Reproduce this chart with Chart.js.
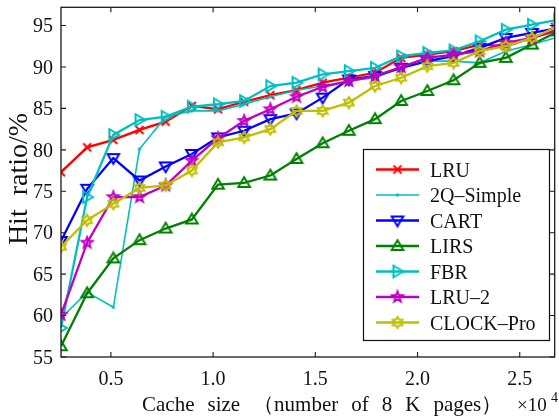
<!DOCTYPE html>
<html>
<head>
<meta charset="utf-8">
<script src="https://cdn.jsdelivr.net/npm/chart.js@4/dist/chart.umd.min.js"></script>
<style>
    html, body { margin: 0; padding: 0; background: #fff; overflow: hidden; }
    #wrap { width: 562px; height: 420px; }
</style>
</head>
<body>
<div id="wrap"><canvas id="hit-chart" width="562" height="420"></canvas></div>
<script>
// Cache size in units of 10^4 pages (8 K each)
const cacheSize = [0.256, 0.384, 0.512, 0.640, 0.768, 0.896, 1.024, 1.152, 1.280, 1.408,
                   1.536, 1.664, 1.792, 1.920, 2.048, 2.176, 2.304, 2.432, 2.560, 2.688];

// Hit ratio (%) per policy
const lru      = [77.3, 80.3, 81.2, 82.4, 83.4, 85.3, 84.9, 85.8, 86.6, 87.2,
                  88.1, 88.7, 89.3, 91.1, 91.5, 91.9, 92.7, 92.5, 93.5, 94.4];
const twoQ     = [59.7, 62.8, 61.0, 80.1, 84.0, 84.7, 84.7, 85.5, 86.4, 87.2,
                  87.7, 88.3, 88.7, 89.9, 90.7, 90.7, 90.5, 91.9, 92.7, 93.6];
const cart     = [69.0, 75.3, 79.0, 76.3, 78.0, 79.5, 81.5, 82.3, 83.7, 84.4,
                  86.3, 88.5, 88.9, 89.9, 90.7, 91.3, 92.3, 93.5, 94.1, 94.7];
const lirs     = [56.3, 62.7, 66.9, 69.1, 70.5, 71.6, 75.8, 76.0, 76.9, 78.9,
                  80.8, 82.3, 83.7, 85.9, 87.1, 88.4, 90.5, 91.1, 92.7, 94.3];
const fbr      = [58.5, 74.3, 81.8, 83.6, 84.0, 85.2, 85.5, 85.9, 87.7, 88.1,
                  89.1, 89.5, 89.9, 91.3, 91.7, 92.0, 93.1, 94.5, 95.1, 95.7];
const lru2     = [60.1, 68.8, 74.3, 74.3, 75.7, 78.7, 81.4, 83.5, 84.9, 86.4,
                  87.6, 88.3, 88.9, 90.0, 91.1, 91.5, 91.9, 92.9, 93.5, 94.6];
const clockPro = [68.3, 71.5, 73.5, 75.4, 75.7, 77.5, 80.9, 81.5, 82.5, 84.7,
                  84.7, 85.7, 87.7, 88.7, 90.1, 90.5, 91.9, 92.5, 93.5, 94.9];

const xTicks = [0.5, 1.0, 1.5, 2.0, 2.5];
const yTicks = [55, 60, 65, 70, 75, 80, 85, 90, 95];

const serif = '"Liberation Serif", "Times New Roman", serif';

// Small canvases used as point markers (MATLAB-like symbols)
function makeMarker(kind, color) {
    const c = document.createElement('canvas');
    c.width = 16;
    c.height = 16;
    const g = c.getContext('2d');
    g.strokeStyle = color;
    g.fillStyle = color;
    g.lineWidth = 2;
    g.translate(8, 8);
    g.beginPath();
    if (kind === 'x') {
        g.moveTo(-4, -4); g.lineTo(4, 4);
        g.moveTo(4, -4); g.lineTo(-4, 4);
        g.stroke();
    } else if (kind === 'dot') {
        g.arc(0, 0, 1.7, 0, Math.PI * 2);
        g.fill();
    } else if (kind === 'down') {
        g.moveTo(-5.8, -4); g.lineTo(5.8, -4); g.lineTo(0, 5.8); g.closePath();
        g.stroke();
    } else if (kind === 'up') {
        g.moveTo(-5.8, 4); g.lineTo(5.8, 4); g.lineTo(0, -5.8); g.closePath();
        g.stroke();
    } else if (kind === 'right') {
        g.moveTo(-4, -5.8); g.lineTo(-4, 5.8); g.lineTo(5.8, 0); g.closePath();
        g.stroke();
    } else {
        const n = kind === 'penta' ? 5 : 6;
        const R = 5.6;
        const r = kind === 'penta' ? R * 0.42 : R * 0.58;
        for (let k = 0; k < n * 2; k++) {
            const rad = k % 2 === 0 ? R : r;
            const a = -Math.PI / 2 + k * Math.PI / n;
            if (k === 0) g.moveTo(rad * Math.cos(a), rad * Math.sin(a));
            else g.lineTo(rad * Math.cos(a), rad * Math.sin(a));
        }
        g.closePath();
        g.stroke();
    }
    return c;
}

const seriesDefs = [
    { label: 'LRU',        data: lru,      color: '#ff0000', marker: 'x',     width: 2.3 },
    { label: '2Q–Simple',  data: twoQ,     color: '#00bfbf', marker: 'dot',   width: 1.6 },
    { label: 'CART',       data: cart,     color: '#0000ff', marker: 'down',  width: 2.3 },
    { label: 'LIRS',       data: lirs,     color: '#008000', marker: 'up',    width: 2.3 },
    { label: 'FBR',        data: fbr,      color: '#00bfbf', marker: 'right', width: 2.3 },
    { label: 'LRU–2',      data: lru2,     color: '#bf00bf', marker: 'penta', width: 2.3 },
    { label: 'CLOCK–Pro',  data: clockPro, color: '#bfbf00', marker: 'hexa',  width: 2.3 }
];

const datasets = seriesDefs.map((s, i) => ({
    label: s.label,
    data: cacheSize.map((c, k) => ({ x: c, y: s.data[k] })),
    borderColor: s.color,
    backgroundColor: s.color,
    borderWidth: s.width,
    pointStyle: makeMarker(s.marker, s.color),
    pointRadius: 5,
    tension: 0,
    order: seriesDefs.length - i
}));

// Axes box, inward ticks, labels, titles and the legend
const frame = {
    id: 'frame',
    afterDraw(chart) {
        const { ctx, chartArea: a, scales: { x, y } } = chart;
        ctx.save();

        ctx.strokeStyle = '#1a1a1a';
        ctx.lineWidth = 1.3;
        ctx.strokeRect(a.left, a.top, a.right - a.left, a.bottom - a.top);

        ctx.lineWidth = 1.1;
        ctx.beginPath();
        xTicks.forEach(v => {
            const px = x.getPixelForValue(v);
            ctx.moveTo(px, a.bottom); ctx.lineTo(px, a.bottom - 5);
            ctx.moveTo(px, a.top); ctx.lineTo(px, a.top + 5);
        });
        yTicks.forEach(v => {
            const py = y.getPixelForValue(v);
            ctx.moveTo(a.left, py); ctx.lineTo(a.left + 5, py);
            ctx.moveTo(a.right, py); ctx.lineTo(a.right - 5, py);
        });
        ctx.stroke();

        ctx.fillStyle = '#111';
        ctx.font = '20px ' + serif;
        ctx.textBaseline = 'alphabetic';
        ctx.textAlign = 'right';
        yTicks.forEach(v => {
            ctx.fillText(String(v), a.left - 8, y.getPixelForValue(v) + 6.7);
        });
        ctx.textAlign = 'center';
        xTicks.forEach(v => {
            ctx.fillText(v.toFixed(1), x.getPixelForValue(v), 385);
        });

        // x title, words spaced wide like the original typesetting
        ctx.font = '21px ' + serif;
        ctx.textAlign = 'left';
        const words = ['Cache', 'size', '（number', 'of', '8', 'K', 'pages）'];
        let cx = 142;
        words.forEach(w => {
            ctx.fillText(w, cx, 411);
            cx += ctx.measureText(w).width + 13;
        });
        ctx.font = '19px ' + serif;
        ctx.fillText('×10', 517, 411);
        ctx.font = '14px ' + serif;
        ctx.fillText('4', 551, 402);

        // y title
        ctx.save();
        ctx.translate(27, 179);
        ctx.rotate(-Math.PI / 2);
        ctx.font = '28px ' + serif;
        ctx.textAlign = 'center';
        ctx.fillText('Hit  ratio/%', 0, 0);
        ctx.restore();

        // legend
        const lx = 363.5, ly = 149.5, lw = 186, lh = 191;
        ctx.fillStyle = '#fff';
        ctx.fillRect(lx, ly, lw, lh);
        ctx.strokeStyle = '#111';
        ctx.lineWidth = 1.2;
        ctx.strokeRect(lx, ly, lw, lh);
        ctx.font = '20px ' + serif;
        ctx.textAlign = 'left';
        chart.data.datasets.forEach((ds, i) => {
            const cy = 169.5 + i * 25.5;
            ctx.strokeStyle = ds.borderColor;
            ctx.lineWidth = ds.borderWidth;
            ctx.beginPath();
            ctx.moveTo(376, cy);
            ctx.lineTo(419, cy);
            ctx.stroke();
            ctx.drawImage(ds.pointStyle, 397.5 - 8, cy - 8);
            ctx.fillStyle = '#111';
            ctx.fillText(ds.label, 430, cy + 7);
        });

        ctx.restore();
    }
};

const chart = new Chart(document.getElementById('hit-chart').getContext('2d'), {
    type: 'line',
    data: { datasets: datasets },
    options: {
        responsive: false,
        animation: false,
        layout: { padding: { left: 61, top: 7, right: 1.5, bottom: 63 } },
        plugins: {
            legend: { display: false },
            tooltip: { enabled: false }
        },
        scales: {
            x: { type: 'linear', min: 0.256, max: 2.671, display: false },
            y: { min: 55, max: 97.2, display: false }
        }
    },
    plugins: [frame]
});
</script>
</body>
</html>
